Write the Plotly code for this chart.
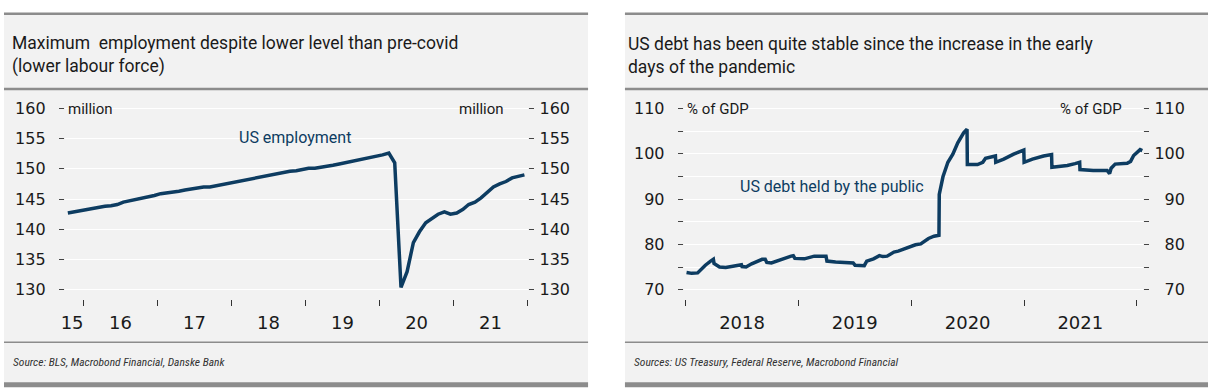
import plotly.graph_objects as go

W, H = 1214, 391

# ---------------- data: left chart (US employment, million, monthly) ----------------
emp_months = (
    ["2015-10", "2015-11", "2015-12"]
    + [f"{y}-{m:02d}" for y in range(2016, 2022) for m in range(1, 13)]
)
emp_values = [
    142.7, 142.9, 143.1,
    143.2, 143.4, 143.6, 143.8, 143.9, 144.1, 144.5, 144.7, 145.0, 145.2, 145.4, 145.6,
    145.9, 146.0, 146.2, 146.3, 146.5, 146.7, 146.8, 147.0, 147.0, 147.2, 147.4, 147.6,
    147.8, 148.1, 148.3, 148.5, 148.7, 148.9, 149.0, 149.2, 149.4, 149.6, 149.7, 149.9,
    150.1, 150.1, 150.3, 150.5, 150.6, 150.8, 151.0, 151.2, 151.4, 151.6, 151.8, 152.0,
    152.3, 152.6, 151.0, 130.4, 133.0, 137.8, 139.6, 141.1, 141.9, 142.5, 142.9, 142.5,
    142.7, 143.3, 144.1, 144.5, 145.2, 146.1, 147.0, 147.5, 147.9, 148.5, 148.8, 149.0,
]
emp_dates = [m + "-15" for m in emp_months]

emp_tick_years = ["15", "16", "17", "18", "19", "20", "21"]
emp_label_dates = ["2015-11-05", "2016-07-01", "2017-07-01", "2018-07-01",
                   "2019-07-01", "2020-07-01", "2021-07-01"]
emp_year_starts = ["2016-01-01", "2017-01-01", "2018-01-01", "2019-01-01",
                   "2020-01-01", "2021-01-01", "2022-01-01"]
emp_yticks = [130, 135, 140, 145, 150, 155, 160]

# ---------------- data: right chart (US debt held by the public, % of GDP) ----------------
debt_dates = [
    "2018-01-03", "2018-01-20", "2018-02-08", "2018-02-20", "2018-03-05", "2018-03-22",
    "2018-03-31", "2018-04-02", "2018-04-20", "2018-05-10", "2018-05-25", "2018-06-20",
    "2018-06-30", "2018-07-02", "2018-07-15", "2018-08-02", "2018-08-20", "2018-09-05",
    "2018-09-15", "2018-09-20", "2018-10-05", "2018-10-28", "2018-11-20", "2018-12-08",
    "2018-12-15", "2018-12-20", "2019-01-20", "2019-02-05", "2019-02-21", "2019-03-31",
    "2019-04-03", "2019-05-01", "2019-05-29", "2019-06-27", "2019-07-03", "2019-08-02",
    "2019-08-10", "2019-09-01", "2019-09-20", "2019-10-01", "2019-10-15", "2019-11-06",
    "2019-11-20", "2019-12-09", "2019-12-31", "2020-01-15", "2020-02-01", "2020-02-26",
    "2020-03-15", "2020-03-31", "2020-04-01", "2020-04-13", "2020-04-29", "2020-05-15",
    "2020-05-31", "2020-06-19", "2020-06-30", "2020-07-01", "2020-08-03", "2020-08-20",
    "2020-08-29", "2020-09-21", "2020-09-30", "2020-10-01", "2020-10-27", "2020-11-28",
    "2020-12-20", "2020-12-31", "2021-01-01", "2021-01-28", "2021-03-05", "2021-03-31",
    "2021-04-01", "2021-05-21", "2021-06-15", "2021-06-30", "2021-07-01", "2021-08-13",
    "2021-09-27", "2021-10-05", "2021-10-10", "2021-10-23", "2021-12-01", "2021-12-12",
    "2021-12-22", "2022-01-04", "2022-01-12", "2022-01-19",
]
debt_values = [
    73.8, 73.6, 73.7, 74.6, 75.4, 76.3,
    76.7, 75.8, 75.0, 74.9, 75.1, 75.4,
    75.5, 75.1, 75.0, 75.7, 76.2, 76.7,
    76.7, 76.0, 75.9, 76.5, 77.0, 77.4,
    77.5, 76.9, 76.8, 77.1, 77.4, 77.4,
    76.3, 76.1, 76.0, 75.9, 75.4, 75.3,
    76.3, 76.8, 77.5, 77.3, 77.4, 78.3,
    78.5, 79.0, 79.7, 79.9, 80.1, 81.3,
    81.8, 82.0, 91.0, 94.9, 98.1, 99.9,
    102.4, 104.6, 105.4, 97.6, 97.6, 98.1,
    99.0, 99.4, 99.5, 98.1, 98.8, 99.9,
    100.4, 100.8, 98.1, 98.8, 99.5, 99.8,
    97.0, 97.4, 97.8, 98.1, 96.5, 96.3,
    96.3, 95.6, 96.8, 97.7, 97.9, 98.3,
    99.6, 100.5, 100.9, 100.7,
]
debt_tick_years = ["2018", "2019", "2020", "2021"]
debt_label_dates = ["2018-07-02", "2019-07-02", "2020-07-02", "2021-07-02"]
debt_year_starts = ["2018-01-01", "2019-01-01", "2020-01-01", "2021-01-01", "2022-01-01"]
debt_yticks = [70, 75, 80, 85, 90, 95, 100, 105, 110]
debt_yticktext = ["\u200770", "", "\u200780", "", "\u200790", "", "100", "", "110"]

# ---------------- styling ----------------
LINE = "#0d3c61"
PANEL = "#f2f2f2"
RULE = "#8c8c8c"
TXT = "#1a1a1a"
TICKF = "DejaVu Sans"
TEXTF = "Roboto"


def px(x):
    return x / W


def py(y):
    return 1 - y / H


ydom = [py(297.5), py(101)]

fig = go.Figure()
fig.add_trace(go.Scatter(x=emp_dates, y=emp_values, mode="lines", xaxis="x", yaxis="y",
                         line=dict(color=LINE, width=3.5), showlegend=False, hoverinfo="skip"))
fig.add_trace(go.Scatter(x=emp_dates, y=emp_values, mode="lines", xaxis="x", yaxis="y2",
                         line=dict(color="rgba(0,0,0,0)", width=0), showlegend=False, hoverinfo="skip"))
fig.add_trace(go.Scatter(x=debt_dates, y=debt_values, mode="lines", xaxis="x2", yaxis="y3",
                         line=dict(color=LINE, width=3.5), showlegend=False, hoverinfo="skip"))
fig.add_trace(go.Scatter(x=debt_dates, y=debt_values, mode="lines", xaxis="x2", yaxis="y4",
                         line=dict(color="rgba(0,0,0,0)", width=0), showlegend=False, hoverinfo="skip"))

xcommon = dict(type="date", showgrid=False, zeroline=False, showline=False,
               ticks="outside", ticklen=6, tickcolor="rgba(0,0,0,0)", ticklabelstandoff=2,
               tickfont=dict(family=TICKF, size=18, color=TXT), tickmode="array")
ycommon = dict(showgrid=True, gridcolor="#ffffff", gridwidth=1, zeroline=False, showline=False,
               ticks="outside", ticklen=5, tickcolor="#444444", tickmode="array",
               tickfont=dict(family=TICKF, size=16, color=TXT))

fig.update_layout(
    width=W, height=H, margin=dict(l=0, r=0, t=0, b=0),
    paper_bgcolor="#ffffff", plot_bgcolor="rgba(0,0,0,0)", showlegend=False,
    xaxis=dict(xcommon, domain=[px(61), px(526)], anchor="y",
               range=["2015-09-30", "2022-01-03"],
               tickvals=emp_label_dates, ticktext=emp_tick_years,
               minor=dict(tickmode="array", tickvals=emp_year_starts, ticks="outside",
                          ticklen=6, tickwidth=1, tickcolor="#333333", showgrid=False)),
    yaxis=dict(ycommon, domain=ydom, anchor="x", range=[128.55, 160.27],
               tickvals=emp_yticks, ticktext=[str(v) for v in emp_yticks], ticklabelstandoff=10),
    yaxis2=dict(ycommon, overlaying="y", side="right", anchor="x", range=[128.55, 160.27],
                tickvals=emp_yticks, ticktext=[str(v) for v in emp_yticks], showgrid=False,
                ticklabelstandoff=2),
    xaxis2=dict(xcommon, domain=[px(682), px(1143)], anchor="y3",
                range=["2017-12-25", "2022-01-22"],
                tickvals=debt_label_dates, ticktext=debt_tick_years,
                minor=dict(tickmode="array", tickvals=debt_year_starts, ticks="outside",
                           ticklen=6, tickwidth=1, tickcolor="#333333", showgrid=False)),
    yaxis3=dict(ycommon, domain=ydom, anchor="x2", range=[68.02, 110.37],
                tickvals=debt_yticks, ticktext=debt_yticktext, ticklabelstandoff=10),
    yaxis4=dict(ycommon, overlaying="y3", side="right", anchor="x2", range=[68.02, 110.37],
                tickvals=debt_yticks, ticktext=debt_yticktext, showgrid=False,
                ticklabelstandoff=2),
)

# ---------------- panels and rules ----------------
shapes = []
for x0, x1 in [(0, 586), (623, 1208)]:
    shapes.append(dict(type="rect", xref="paper", yref="paper", x0=px(x0), x1=px(x1),
                       y0=py(386), y1=py(5), fillcolor=PANEL, line=dict(width=0), layer="below"))
    for yy, wdt in [(6, 2.5), (83, 2.5), (342, 1.5), (385.5, 5)]:
        shapes.append(dict(type="line", xref="paper", yref="paper", x0=px(x0), x1=px(x1),
                           y0=py(yy), y1=py(yy), line=dict(color=RULE, width=wdt), layer="below"))
fig.update_layout(shapes=shapes)

# ---------------- texts ----------------
ann = []


def add(text, x, y, xanchor="left", size=15, color=TXT, family=TEXTF, italic=False, yanchor="middle"):
    ann.append(dict(text=f"<i>{text}</i>" if italic else text, xref="paper", yref="paper",
                    x=px(x), y=py(y), xanchor=xanchor, yanchor=yanchor, showarrow=False,
                    align="left", font=dict(family=family, size=size, color=color)))


add("Maximum  employment despite lower level than pre-covid<br>(lower labour force)", 6, 48.5, size=17.5)
add("US debt has been quite stable since the increase in the early<br>days of the pandemic", 624, 48.5, size=17.5)
add("million", 62, 103, size=15)
add("million", 504, 103, xanchor="right", size=15)
add("% of GDP", 683, 103, size=15)
add("% of GDP", 1124, 103, xanchor="right", size=15)
add("US employment", 292, 133, xanchor="center", size=16, color=LINE)
add("US debt held by the public", 831, 183, xanchor="center", size=16, color=LINE)
add("Source: BLS, Macrobond Financial, Danske Bank", 7, 362, size=11.5, color="#333333",
    family="Liberation Sans Narrow, Roboto Condensed, Liberation Sans", italic=True)
add("Sources: US Treasury, Federal Reserve, Macrobond Financial", 630, 362, size=11.5, color="#333333",
    family="Liberation Sans Narrow, Roboto Condensed, Liberation Sans", italic=True)
fig.update_layout(annotations=ann)

fig.write_html(
    "out.html",
    config={"displayModeBar": False},
    post_script=(
        "document.body.style.margin='0';document.body.style.overflow='hidden';"
        "var d=document.getElementById('{plot_id}');"
        "d.style.position='fixed';d.style.left='0px';d.style.top='0px';"
    ),
)
